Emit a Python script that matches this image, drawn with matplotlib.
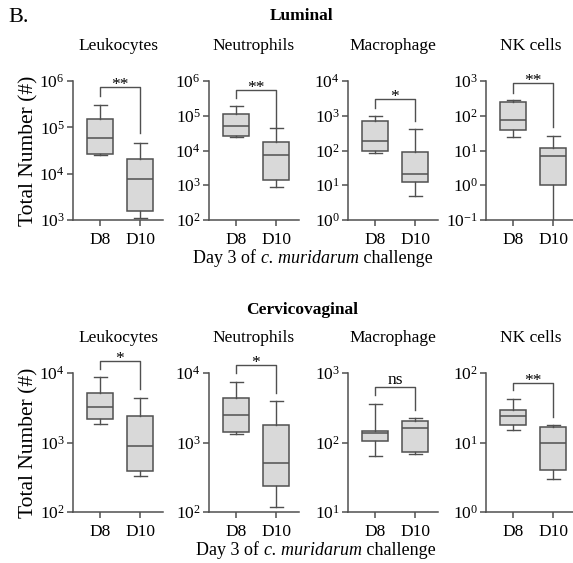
import matplotlib
matplotlib.use('Agg')
import matplotlib.pyplot as plt
from matplotlib.ticker import LogLocator, NullLocator, LogFormatterSciNotation

plt.rcParams['font.family'] = ['Liberation Serif', 'DejaVu Serif']
plt.rcParams['mathtext.fontset'] = 'custom'
plt.rcParams['mathtext.rm'] = 'Liberation Serif'
plt.rcParams['mathtext.it'] = 'Liberation Serif:italic'
plt.rcParams['mathtext.bf'] = 'Liberation Serif:bold'

groups = ['D8', 'D10']
cell_types = ['Leukocytes', 'Neutrophils', 'Macrophage', 'NK cells']

# each entry: (whislo, q1, med, q3, whishi)
luminal_d8 = [
    [2.55e4, 2.7e4, 5.9e4, 1.5e5, 3.1e5],
    [2.4e4, 2.6e4, 5.2e4, 1.15e5, 1.9e5],
    [84, 98, 190, 710, 970],
    [24, 38, 76, 244, 279],
]
luminal_d10 = [
    [1.1e3, 1.59e3, 7.5e3, 2.03e4, 4.7e4],
    [9.1e2, 1.44e3, 7.3e3, 1.7e4, 4.4e4],
    [4.9, 12.3, 21, 90, 419],
    [0.01, 1.03, 7.0, 11.7, 27],
]
cervico_d8 = [
    [1.84e3, 2.17e3, 3.27e3, 5.2e3, 8.7e3],
    [1.32e3, 1.43e3, 2.5e3, 4.4e3, 7.3e3],
    [65, 106, 135, 147, 353],
    [14.9, 18, 24, 29.6, 41.7],
]
cervico_d10 = [
    [330, 386, 905, 2.4e3, 4.3e3],
    [119, 237, 509, 1.78e3, 3.9e3],
    [69, 72, 164, 203, 222],
    [2.96, 4.0, 10, 16.8, 18],
]
luminal_ylims = [(1e3, 1e6), (1e2, 1e6), (1e0, 1e4), (1e-1, 1e3)]
cervico_ylims = [(1e2, 1e4), (1e2, 1e4), (1e1, 1e3), (1e0, 1e2)]
luminal_sig = ['**', '**', '*', '**']
cervico_sig = ['*', '*', 'ns', '**']

# bracket geometry in axes fraction: (top, left_end, right_end)
luminal_brackets = [(0.955, 0.892, 0.624), (0.935, 0.876, 0.66),
                    (0.868, 0.809, 0.713), (0.983, 0.916, 0.672)]
cervico_brackets = [(1.089, 1.029, 0.882), (1.055, 0.998, 0.858),
                    (0.897, 0.839, 0.733), (0.928, 0.877, 0.685)]

W, H = 573, 563
fig = plt.figure(figsize=(W / 100, H / 100), dpi=100)

EDGE = '#505050'
FILL = '#d9d9d9'
FS_TICK = 12.5
FS_TITLE = 12.5
FS_XL = 13
FS_YL = 15.5

lefts = [73, 209, 348, 486]
axw = 90


def stats_of(v, label):
    return dict(whislo=v[0], q1=v[1], med=v[2], q3=v[3], whishi=v[4], label=label, fliers=[])


def draw_row(top, bot, d8, d10, ylims, sigs, brackets):
    for i in range(4):
        ax = fig.add_axes([lefts[i] / W, 1 - bot / H, axw / W, (bot - top) / H])
        st = [stats_of(d8[i], groups[0]), stats_of(d10[i], groups[1])]
        ax.bxp(st, positions=[0, 1], widths=0.65, patch_artist=True, showfliers=False,
               boxprops=dict(facecolor=FILL, edgecolor=EDGE, linewidth=1.1),
               medianprops=dict(color=EDGE, linewidth=1.1),
               whiskerprops=dict(color=EDGE, linewidth=1.0),
               capprops=dict(color=EDGE, linewidth=1.0))
        ax.set_yscale('log')
        ax.set_ylim(*ylims[i])
        ax.set_xlim(-0.675, 1.575)
        ax.yaxis.set_major_locator(LogLocator(base=10, numticks=20))
        ax.yaxis.set_minor_locator(NullLocator())
        ax.yaxis.set_major_formatter(LogFormatterSciNotation())
        ax.set_xticks([0, 1])
        ax.set_xticklabels(groups)
        for s in ['top', 'right']:
            ax.spines[s].set_visible(False)
        for s in ['left', 'bottom']:
            ax.spines[s].set_color(EDGE)
            ax.spines[s].set_linewidth(1.1)
        ax.tick_params(axis='both', direction='out', length=4, width=1.1, color=EDGE,
                       labelsize=FS_TICK, pad=2)
        ax.tick_params(axis='x', pad=5)
        # significance bracket
        tp, le, re = brackets[i]
        tr = ax.get_xaxis_transform()
        ax.plot([0, 0, 1, 1], [le, tp, tp, re], color=EDGE, lw=1.0, transform=tr, clip_on=False)
        dy = 2.2 if sigs[i] == 'ns' else -1.4
        ax.annotate(sigs[i], xy=(0.5, tp), xycoords=tr, xytext=(0, dy),
                    textcoords='offset points', ha='center', va='baseline',
                    fontsize=FS_TICK, annotation_clip=False)
        # panel title
        ax.text(0.5, 1 + 35 / (bot - top), cell_types[i], transform=ax.transAxes,
                ha='center', va='center', fontsize=FS_TITLE)
        if i == 0:
            ax.set_ylabel('Total Number (#)', fontsize=FS_YL)
            ax.yaxis.set_label_coords(-0.38, 0.5)


draw_row(81, 220, luminal_d8, luminal_d10, luminal_ylims, luminal_sig, luminal_brackets)
draw_row(373, 512, cervico_d8, cervico_d10, cervico_ylims, cervico_sig, cervico_brackets)

fig.text(8 / W, 1 - 18 / H, 'B.', fontsize=16, ha='left', va='center')
fig.text(302 / W, 1 - 16 / H, 'Luminal', fontsize=12.5, fontweight='bold', ha='center', va='center')
fig.text(302 / W, 1 - 310 / H, 'Cervicovaginal', fontsize=12.5, fontweight='bold', ha='center', va='center')

# x-label built from pieces so only "c. muridarum" is italic
renderer = fig.canvas.get_renderer()
pieces = [('Day 3 of ', 'normal'), ('c. muridarum', 'italic'), (' challenge', 'normal')]


def xlabel(cx, cy):
    texts = [fig.text(0, cy / H, s, fontsize=FS_XL, style=st, va='baseline') for s, st in pieces]
    widths = [t.get_window_extent(renderer).width for t in texts]
    total = sum(widths)
    x = cx - total / 2
    for t, w in zip(texts, widths):
        t.set_x(x / W)
        x += w


xlabel(313, H - 263)
xlabel(316, H - 555)

fig.savefig('out.png', dpi=100)
